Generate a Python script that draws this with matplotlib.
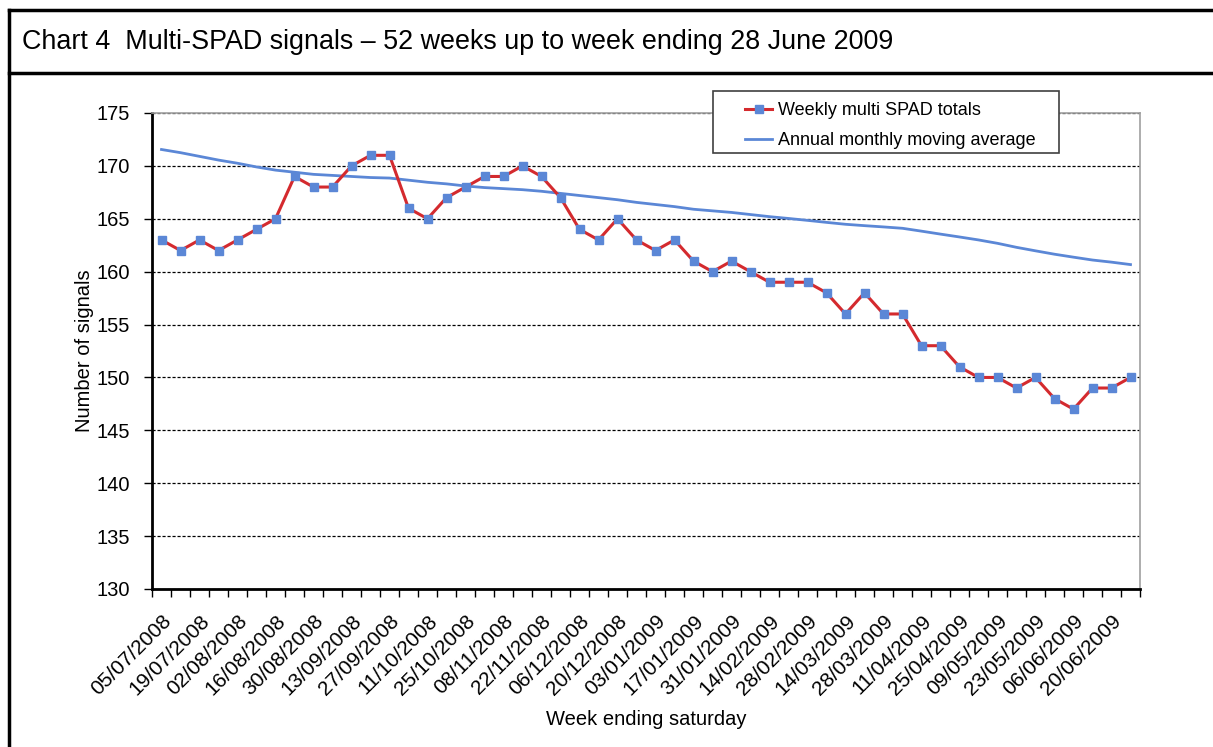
import matplotlib.pyplot as plt
import matplotlib.lines as mlines
import matplotlib.patches as mpatches
import numpy as np

plt.rcParams['font.family'] = ['Liberation Sans', 'DejaVu Sans']

title = 'Chart 4  Multi-SPAD signals \u2013 52 weeks up to week ending 28 June 2009'

# week ending dates (every week); labels shown on every second one
weeks = ['05/07/2008', '12/07/2008', '19/07/2008', '26/07/2008', '02/08/2008', '09/08/2008',
         '16/08/2008', '23/08/2008', '30/08/2008', '06/09/2008', '13/09/2008', '20/09/2008',
         '27/09/2008', '04/10/2008', '11/10/2008', '18/10/2008', '25/10/2008', '01/11/2008',
         '08/11/2008', '15/11/2008', '22/11/2008', '29/11/2008', '06/12/2008', '13/12/2008',
         '20/12/2008', '27/12/2008', '03/01/2009', '10/01/2009', '17/01/2009', '24/01/2009',
         '31/01/2009', '07/02/2009', '14/02/2009', '21/02/2009', '28/02/2009', '07/03/2009',
         '14/03/2009', '21/03/2009', '28/03/2009', '04/04/2009', '11/04/2009', '18/04/2009',
         '25/04/2009', '02/05/2009', '09/05/2009', '16/05/2009', '23/05/2009', '30/05/2009',
         '06/06/2009', '13/06/2009', '20/06/2009', '27/06/2009']

weekly = [163, 162, 163, 162, 163, 164, 165, 169, 168, 168, 170, 171, 171, 166, 165, 167,
          168, 169, 169, 170, 169, 167, 164, 163, 165, 163, 162, 163, 161, 160, 161, 160,
          159, 159, 159, 158, 156, 158, 156, 156, 153, 153, 151, 150, 150, 149, 150, 148,
          147, 149, 149, 150]

moving_avg = [171.55, 171.25, 170.9, 170.55, 170.25, 169.9, 169.6, 169.4, 169.2, 169.1,
              169.0, 168.9, 168.85, 168.65, 168.45, 168.3, 168.1, 167.95, 167.85, 167.75,
              167.6, 167.4, 167.2, 167.0, 166.8, 166.55, 166.35, 166.15, 165.9, 165.75,
              165.6, 165.4, 165.2, 165.03, 164.85, 164.66, 164.48, 164.35, 164.23, 164.1,
              163.83, 163.55, 163.28, 163.0, 162.68, 162.3, 161.97, 161.65, 161.37, 161.1,
              160.9, 160.67]

red = '#D42A2E'
blue = '#5B87D6'

W, H = 1213, 747
fig = plt.figure(figsize=(W / 100, H / 100), dpi=100)
ax = fig.add_axes([152/W, 1 - 589/H, (1140 - 152)/W, (589 - 113)/H])

x = np.arange(len(weeks))
ax.plot(x, weekly, color=red, lw=2.2, marker='s', markersize=6,
        markerfacecolor=blue, markeredgecolor=blue, label='Weekly multi SPAD totals', zorder=3)
ax.plot(x, moving_avg, color=blue, lw=2, label='Annual monthly moving average', zorder=2)

ax.set_xlim(-0.5, len(weeks) - 0.5)
ax.set_ylim(130, 175)
ax.set_yticks(np.arange(130, 176, 5))
ax.tick_params(axis='y', labelsize=14.5, length=6, width=1, direction='out', pad=10)

# labels at every second category, tick marks between categories
ax.set_xticks(x[::2])
ax.set_xticklabels(weeks[::2], rotation=45, ha='right', rotation_mode='anchor', fontsize=15)
ax.set_xticks(np.arange(-0.5, len(weeks), 1), minor=True)
ax.tick_params(axis='x', which='major', length=0, pad=16)
ax.tick_params(axis='x', which='minor', length=6, width=1, direction='out')

ax.yaxis.grid(True, color='black', linestyle=(0, (2.5, 1.5)), lw=0.9)
ax.set_axisbelow(True)
for s in ['top', 'right']:
    ax.spines[s].set_color('#A0A0A0')
    ax.spines[s].set_linewidth(1.2)
for s in ['left', 'bottom']:
    ax.spines[s].set_color('black')
    ax.spines[s].set_linewidth(2)

ax.set_ylabel('Number of signals', fontsize=14.5, labelpad=2)
ax.set_xlabel('Week ending saturday', fontsize=14.5, labelpad=8)

# legend without its own frame, box drawn separately
leg = ax.legend(loc='upper left', bbox_to_anchor=(745/W, 1 - 102/H),
                bbox_transform=fig.transFigure, fontsize=13, frameon=False,
                handlelength=1.5, handletextpad=0.3, borderpad=0, labelspacing=0.72,
                borderaxespad=0)
fig.add_artist(mpatches.Rectangle((713/W, 1 - 153/H), (1059 - 713)/W, (153 - 91)/H,
                                  transform=fig.transFigure, facecolor='white',
                                  edgecolor='#404040', lw=1.2, zorder=4))
leg.set_zorder(5)
fig.add_artist(leg)

# frame around the figure and title box
fig.add_artist(mlines.Line2D([9/W, 9/W], [0, 1 - 10/H], color='black', lw=2.5))
fig.add_artist(mlines.Line2D([9/W, 1], [1 - 10/H, 1 - 10/H], color='black', lw=2.5))
fig.add_artist(mlines.Line2D([9/W, 1], [1 - 73/H, 1 - 73/H], color='black', lw=2.5))
fig.text(22/W, 1 - 42/H, title, fontsize=19.4, va='center', ha='left')

fig.savefig('out.png', dpi=100)
